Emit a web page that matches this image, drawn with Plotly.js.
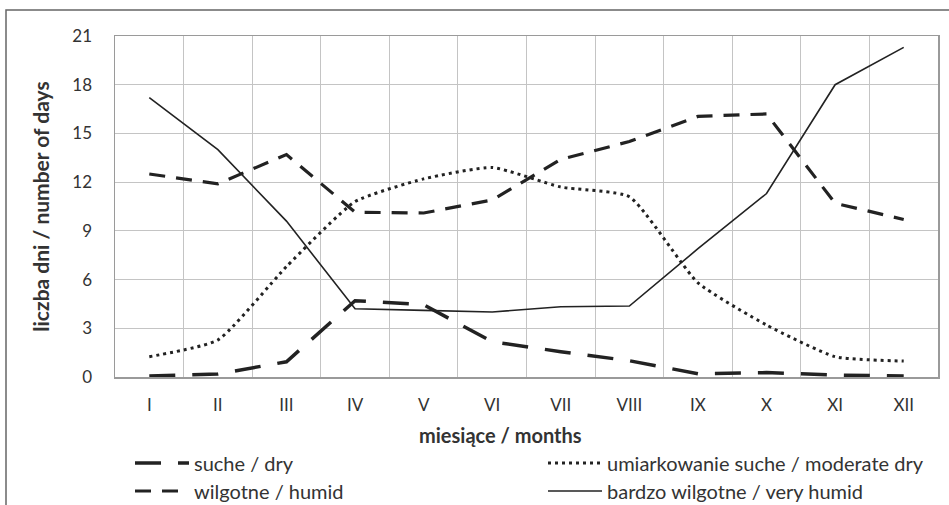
<!DOCTYPE html>
<html><head><meta charset="utf-8">
<script src="https://cdn.plot.ly/plotly-3.0.1.min.js"></script>
<style>body{margin:0;background:#fff}#c{width:949px;height:505px}</style>
</head><body><div id="c"></div>
<script>
var months = ["I","II","III","IV","V","VI","VII","VIII","IX","X","XI","XII"];
var dry = [0.06,0.18,0.94,4.7,4.45,2.17,1.56,1.0,0.2,0.27,0.12,0.06];
var moderateDry = [1.25,2.28,6.8,10.8,12.2,12.9,11.7,11.1,5.8,3.2,1.25,0.98];
var humid = [12.5,11.9,13.7,10.15,10.1,10.9,13.4,14.5,16.05,16.2,10.7,9.7];
var veryHumid = [17.2,14.0,9.6,4.2,4.1,4.0,4.33,4.37,7.9,11.3,18.0,20.3];
var yTicks = [0,3,6,9,12,15,18,21];
var names = ["suche / dry","umiarkowanie suche / moderate dry","wilgotne / humid","bardzo wilgotne / very humid"];
var xTitle = "miesiące / months";
var yTitle = "liczba dni / number of days";

var FONT = "Lato, 'Open Sans', sans-serif";
var INK = "#222";
var traces = [
  {x: months, y: dry, name: names[0], mode: "lines", legend: "legend",
   line: {color: INK, width: 3.5, dash: "26px,17px"}},
  {x: months, y: moderateDry, name: names[1], mode: "lines", legend: "legend2",
   line: {color: INK, width: 3, dash: "3px,4px", shape: "spline", smoothing: 0.5}},
  {x: months, y: humid, name: names[2], mode: "lines", legend: "legend3",
   line: {color: INK, width: 3.2, dash: "16px,11px"}},
  {x: months, y: veryHumid, name: names[3], mode: "lines", legend: "legend4",
   line: {color: INK, width: 1.6}}
];

var L = 115, R = 938, T = 36, B = 377, W = 949, H = 505;
function px(x){ return (x - L) / (R - L); }
function py(y){ return (B - y) / (B - T); }

function legendAt(xPix, yPix) {
  return {
    orientation: "h", xref: "container", yref: "container", xanchor: "left", yanchor: "middle",
    x: xPix / W, y: 1 - yPix / H, itemwidth: 54,
    font: {family: FONT, size: 20, color: "#333"}, bgcolor: "rgba(0,0,0,0)"
  };
}
var layout = {
  width: W, height: H,
  margin: {l: L, r: W - R, t: T, b: H - B, autoexpand: false},
  paper_bgcolor: "#fff", plot_bgcolor: "#fff",
  font: {family: FONT, size: 17, color: "#333"},
  showlegend: true,
  xaxis: {
    type: "category", tickson: "boundaries", range: [-0.5, 11.5], automargin: true,
    showgrid: true, gridcolor: "#c4c4c4", gridwidth: 1,
    showline: true, linecolor: "#9a9a9a", linewidth: 1.5, mirror: true,
    ticks: "", ticklabelstandoff: 12,
    tickfont: {family: FONT, size: 17, color: "#333"},
    fixedrange: true
  },
  yaxis: {
    range: [0, 21], tickvals: yTicks, ticktext: yTicks.map(String), automargin: true,
    showgrid: true, gridcolor: "#c4c4c4", gridwidth: 1,
    zeroline: false,
    showline: true, linecolor: "#9a9a9a", linewidth: 1.5, mirror: true,
    ticks: "outside", ticklen: 18, tickcolor: "rgba(0,0,0,0)",
    tickfont: {family: FONT, size: 17, color: "#333"},
    title: {text: "<b>" + yTitle + "</b>", font: {family: FONT, size: 21, color: "#333"}, standoff: 17},
    fixedrange: true
  },
  annotations: [{
    text: "<b>" + xTitle + "</b>", xref: "paper", yref: "paper",
    x: px(500), y: py(435), xanchor: "center", yanchor: "middle", showarrow: false,
    font: {family: FONT, size: 20, color: "#333"}
  }],
  legend: legendAt(130, 463),
  legend2: legendAt(543, 463),
  legend3: legendAt(130, 491),
  legend4: legendAt(543, 491),
  shapes: [{
    type: "rect", xref: "paper", yref: "paper",
    x0: px(6), x1: px(1000), y0: py(560), y1: py(10),
    line: {color: "#666", width: 1.5}, fillcolor: "rgba(0,0,0,0)", layer: "below"
  }]
};
Plotly.newPlot("c", traces, layout, {displayModeBar: false, staticPlot: true});
</script></body></html>
